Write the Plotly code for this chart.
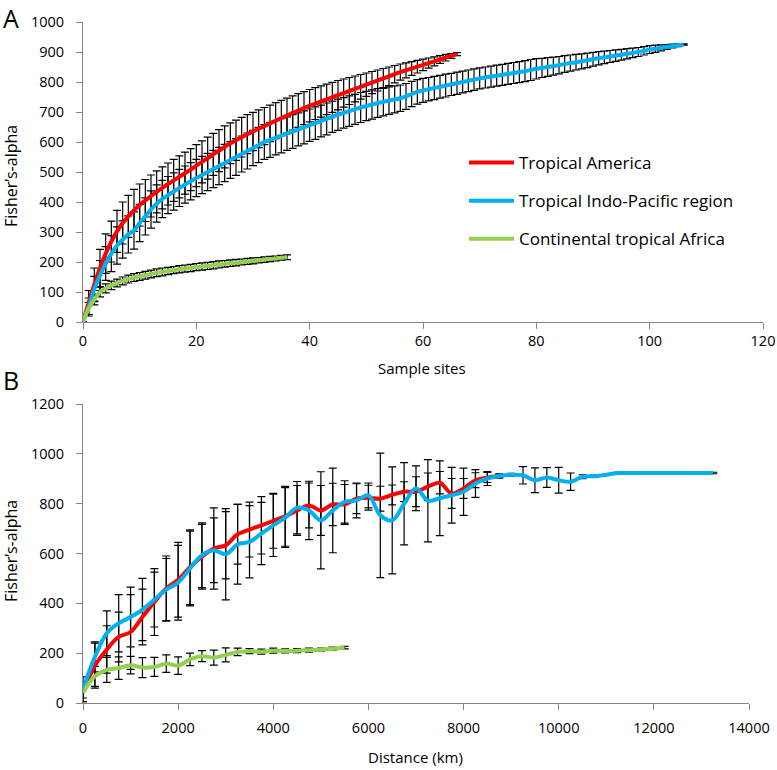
import plotly.graph_objects as go

# ---------------- Panel A data (rarefaction by sample sites) ----------------
sites_america = list(range(0, 67))
alpha_america = [0, 65, 125, 180, 228, 268, 302, 330, 352, 372,
                 390, 405, 420, 434, 447, 460, 472, 484, 496, 508,
                 521, 534, 546, 559, 571, 584, 596, 606, 616, 626,
                 635, 644, 653, 662, 671, 680, 688, 697, 705, 713,
                 721, 728, 735, 742, 749, 756, 763, 770, 777, 784,
                 791, 798, 805, 812, 819, 826, 833, 839, 845, 851,
                 857, 863, 869, 875, 881, 887, 893]
err_america = [0, 40, 55, 62, 66, 68, 70, 70, 70, 70,
               70, 70, 70, 70, 70, 70, 70, 70, 70, 70,
               70, 70, 70, 70, 70, 70, 68, 67, 66, 65,
               64, 63, 62, 61, 60, 59, 58, 57, 56, 55,
               54, 53, 52, 51, 50, 49, 47, 45, 43, 41,
               39, 37, 35, 33, 31, 29, 27, 25, 23, 21,
               19, 17, 15, 13, 11, 8, 5]

sites_indopac = list(range(0, 107))
alpha_indopac = [0, 50, 110, 155, 195, 228, 255, 275, 292, 305,
                 330, 352, 375, 395, 410, 423, 435, 447, 458, 469,
                 480, 490, 500, 510, 520, 530, 540, 550, 560, 570,
                 580, 590, 600, 607, 614, 621, 628, 635, 642, 649,
                 656, 663, 670, 677, 684, 691, 697, 703, 709, 715,
                 720, 725, 730, 734, 738, 742, 746, 752, 760, 767,
                 772, 776, 780, 784, 788, 792, 796, 800, 804, 808,
                 812, 815, 818, 821, 824, 827, 830, 833, 836, 840,
                 844, 847, 850, 853, 856, 860, 863, 866, 869, 872,
                 876, 879, 882, 885, 888, 891, 894, 897, 900, 904,
                 908, 911, 914, 917, 920, 922, 925]
err_indopac = [0, 30, 42, 50, 56, 60, 62, 62, 62, 62,
               62, 62, 62, 62, 62, 62, 62, 62, 62, 62,
               62, 62, 62, 62, 62, 62, 61, 61, 60, 60,
               59, 59, 58, 58, 57, 57, 56, 56, 55, 55,
               54, 54, 53, 53, 52, 52, 51, 51, 50, 50,
               49, 49, 48, 47, 46, 45, 44, 43, 42, 41,
               40, 39, 39, 38, 38, 37, 37, 36, 36, 36,
               35, 35, 35, 35, 35, 35, 35, 35, 35, 35,
               34, 32, 31, 30, 29, 28, 27, 26, 25, 24,
               23, 22, 21, 20, 19, 18, 17, 16, 15, 14,
               13, 12, 10, 8, 6, 4, 2]

sites_africa = list(range(0, 37))
alpha_africa = [0, 45, 75, 100, 112, 122, 130, 137, 143, 148,
                152, 156, 160, 164, 167, 170, 173, 176, 178, 180,
                183, 185, 187, 189, 192, 194, 196, 198, 200, 202,
                204, 206, 208, 210, 212, 214, 216]
err_africa = [0, 20, 18, 16, 15, 14, 13, 13, 13, 13,
              13, 13, 13, 13, 13, 12, 12, 12, 12, 12,
              12, 12, 12, 12, 12, 11, 11, 11, 10, 10,
              10, 9, 9, 9, 8, 8, 8]

# ---------------- Panel B data (by distance, km) ----------------
dist_america = [0, 250, 500, 750, 1000, 1250, 1500, 1750, 2000, 2250,
                2500, 2750, 3000, 3250, 3500, 3750, 4000, 4250, 4500, 4750,
                5000, 5250, 5500, 5750, 6000, 6250, 6500, 6750, 7000, 7250,
                7500, 7750, 8000, 8250, 8500, 8750]
dalpha_america = [45, 150, 215, 265, 285, 345, 405, 460, 495, 545,
                  587, 620, 633, 677, 696, 713, 731, 749, 773, 793,
                  773, 797, 797, 820, 824, 820, 835, 848, 848, 868,
                  884, 841, 861, 894, 905, 911]
derr_america = [40, 90, 95, 100, 150, 112, 134, 130, 150, 150,
                130, 163, 135, 120, 110, 115, 110, 120, 100, 90,
                100, 85, 80, 60, 50, 50, 40, 40, 60, 55,
                45, 60, 40, 30, 20, 8]

dist_indopac = [0, 250, 500, 750, 1000, 1250, 1500, 1750, 2000, 2250,
                2500, 2750, 3000, 3250, 3500, 3750, 4000, 4250, 4500, 4750,
                5000, 5250, 5500, 5750, 6000, 6250, 6500, 6750, 7000, 7250,
                7500, 7750, 8000, 8250, 8500, 8750, 9000, 9250, 9500, 9750,
                10000, 10250, 10500, 10750, 11000, 11250, 11500, 11750, 12000, 13250]
dalpha_indopac = [55, 185, 280, 320, 345, 375, 415, 455, 483, 540,
                  593, 613, 597, 637, 647, 680, 713, 744, 784, 773,
                  733, 773, 807, 813, 833, 753, 733, 800, 862, 812,
                  822, 834, 848, 881, 901, 911, 916, 914, 894, 905,
                  894, 888, 908, 910, 916, 923, 923, 923, 923, 923]
derr_indopac = [50, 60, 90, 115, 120, 125, 110, 125, 150, 150,
                130, 130, 183, 160, 145, 125, 125, 120, 105, 117,
                195, 170, 85, 70, 50, 250, 215, 165, 90, 165,
                150, 112, 95, 56, 28, 8, 6, 35, 50, 40,
                52, 35, 8, 5, 3, 3, 3, 3, 3, 3]

dist_africa = [0, 250, 500, 750, 1000, 1250, 1500, 1750, 2000, 2250,
               2500, 2750, 3000, 3250, 3500, 3750, 4000, 4250, 4500, 4750,
               5000, 5250, 5500]
dalpha_africa = [40, 107, 133, 140, 152, 142, 145, 158, 150, 175,
                 188, 182, 193, 205, 208, 206, 210, 209, 210, 212,
                 214, 218, 222]
derr_africa = [20, 40, 50, 45, 35, 40, 38, 35, 35, 25,
               22, 30, 28, 15, 10, 10, 10, 8, 8, 8,
               6, 6, 5]

series_names = ["Tropical America", "Tropical Indo-Pacific region", "Continental tropical Africa"]
colors = ["#FF0000", "#00B0F0", "#92D050"]

FONT = "Open Sans"
fig = go.Figure()

panelA = [(sites_america, alpha_america, err_america),
          (sites_indopac, alpha_indopac, err_indopac),
          (sites_africa, alpha_africa, err_africa)]
panelB = [(dist_america, dalpha_america, derr_america),
          (dist_indopac, dalpha_indopac, derr_indopac),
          (dist_africa, dalpha_africa, derr_africa)]

# error bars first (behind lines)
for (xs, ys, es), ax in [(p, ("x", "y")) for p in panelA] + [(p, ("x2", "y2")) for p in panelB]:
    fig.add_trace(go.Scatter(
        x=xs, y=ys, mode="markers", xaxis=ax[0], yaxis=ax[1],
        marker=dict(size=1, color="rgba(0,0,0,0)"),
        error_y=dict(type="data", array=es, symmetric=True, color="#000000",
                     thickness=1.2, width=4),
        showlegend=False, hoverinfo="skip"))

# lines
for i, (xs, ys, es) in enumerate(panelA):
    fig.add_trace(go.Scatter(
        x=xs, y=ys, mode="lines", xaxis="x", yaxis="y",
        line=dict(color=colors[i], width=4, shape="spline", smoothing=1.0),
        name=series_names[i], legendgroup=f"g{i}", showlegend=True))
for i, (xs, ys, es) in enumerate(panelB):
    fig.add_trace(go.Scatter(
        x=xs, y=ys, mode="lines", xaxis="x2", yaxis="y2",
        line=dict(color=colors[i], width=4, shape="spline", smoothing=1.0),
        name=series_names[i], legendgroup=f"g{i}", showlegend=False))

W, H = 777, 770
def px(xp):
    return xp / W
def py(yp):
    return 1 - yp / H

axis_common = dict(showline=True, linecolor="#868686", linewidth=1,
                   ticks="outside", ticklen=6, tickcolor="#868686", tickwidth=1,
                   showgrid=False, zeroline=False, automargin=False,
                   tickformat="d",
                   tickfont=dict(family=FONT, size=14.5, color="#000000"))

fig.update_layout(
    width=W, height=H, autosize=False,
    margin=dict(l=0, r=0, t=0, b=0, pad=0, autoexpand=False),
    paper_bgcolor="white", plot_bgcolor="white",
    xaxis=dict(domain=[px(83), px(763)], range=[0, 120], dtick=20, anchor="y", **axis_common),
    yaxis=dict(domain=[py(322), py(22)], range=[0, 1000], dtick=100, anchor="x",
               ticklabelstandoff=9, **axis_common),
    xaxis2=dict(domain=[px(83), px(749)], range=[0, 14000], dtick=2000, anchor="y2",
                ticklabelstandoff=6, **axis_common),
    yaxis2=dict(domain=[py(703), py(404)], range=[0, 1200], dtick=200, anchor="x2",
                ticklabelstandoff=9, **axis_common),
    legend=dict(x=px(464), y=py(145), xanchor="left", yanchor="top",
                font=dict(family=FONT, size=17, color="#000000"),
                bgcolor="rgba(0,0,0,0)", tracegroupgap=13, itemwidth=45),
    showlegend=True,
)

ann = [
    dict(text="A", x=px(11), y=py(18), font=dict(family=FONT, size=25, color="#000")),
    dict(text="B", x=px(11), y=py(380), font=dict(family=FONT, size=25, color="#000")),
    dict(text="Sample sites", x=px(422), y=py(368), font=dict(family=FONT, size=15, color="#000")),
    dict(text="Distance (km)", x=px(415), y=py(757), font=dict(family=FONT, size=15, color="#000")),
    dict(text="Fisher\u2019s-alpha", x=px(11), y=py(176), textangle=-90,
         font=dict(family=FONT, size=16, color="#000")),
    dict(text="Fisher\u2019s-alpha", x=px(11), y=py(551), textangle=-90,
         font=dict(family=FONT, size=16, color="#000")),
]
for a in ann:
    a.update(xref="paper", yref="paper", showarrow=False, xanchor="center", yanchor="middle")
fig.update_layout(annotations=ann)

# remove the page's default 8px body margin so the figure sits at the window origin
fig.write_html("out.html",
               config={"displayModeBar": False},
               post_script="document.body.style.margin='0';document.body.style.overflow='hidden';")
